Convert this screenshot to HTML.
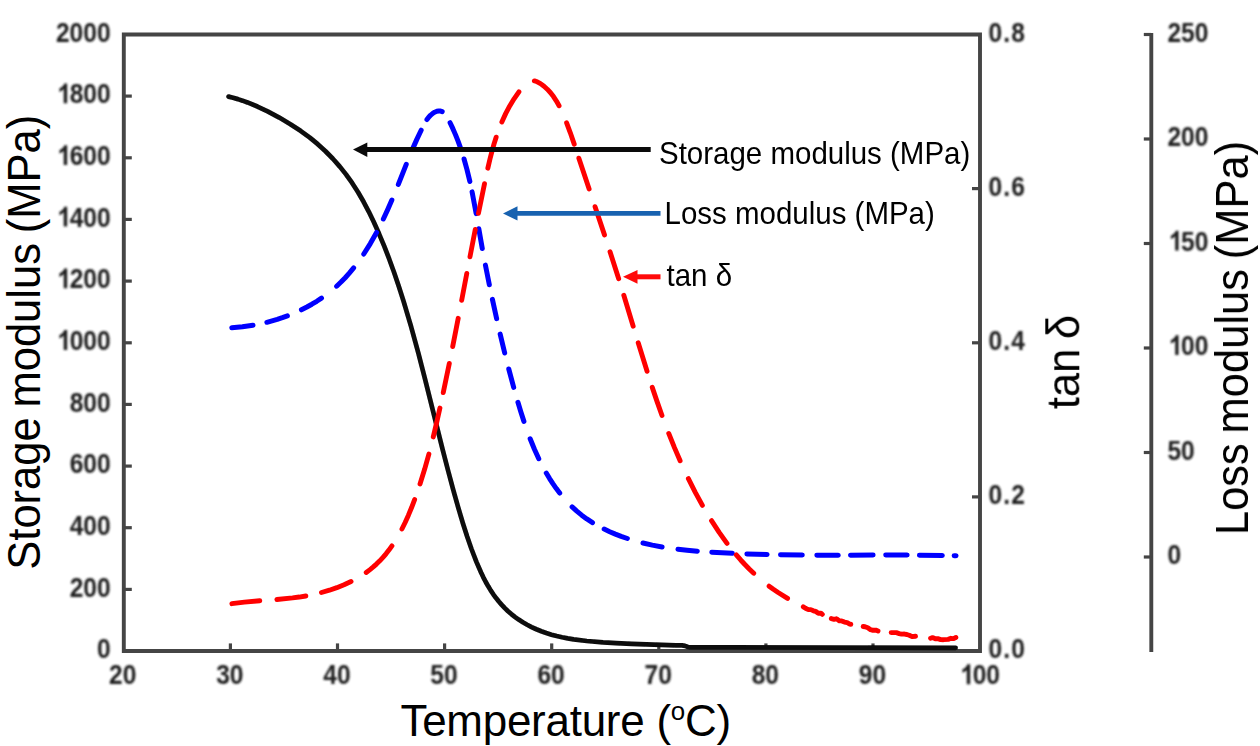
<!DOCTYPE html>
<html><head><meta charset="utf-8"><title>DMA chart</title>
<style>html,body{margin:0;padding:0;background:#fff}svg{display:block}text{font-family:"Liberation Sans",sans-serif;font-kerning:none;font-feature-settings:"kern" 0,"liga" 0}.tk{font-weight:bold;font-size:27.6px;fill:#1e1e1e}.ax{font-size:44px;fill:#000}.lg{font-size:29.5px;fill:#000}</style></head><body>
<svg width="1260" height="746" viewBox="0 0 1260 746">
<rect width="1260" height="746" fill="#fff"/>
<defs><filter id="bl" x="-5%" y="-5%" width="110%" height="110%"><feGaussianBlur stdDeviation="0.95"/></filter><filter id="bl2" x="-5%" y="-5%" width="110%" height="110%"><feGaussianBlur stdDeviation="0.6"/></filter><filter id="bl3" x="-2%" y="-2%" width="104%" height="104%"><feGaussianBlur stdDeviation="0.55"/></filter></defs>
<g stroke="#454545" stroke-width="3.9" fill="none" filter="url(#bl2)">
<path d="M123.8 34.5 H980.0 V651.0 H123.8 Z"/>
<path d="M1151.3 33.0 V652"/>
</g>
<g stroke="#454545" stroke-width="3.2" fill="none" filter="url(#bl2)">
<path d="M123.8 589.4 h8"/>
<path d="M123.8 527.7 h8"/>
<path d="M123.8 466.1 h8"/>
<path d="M123.8 404.4 h8"/>
<path d="M123.8 342.8 h8"/>
<path d="M123.8 281.1 h8"/>
<path d="M123.8 219.4 h8"/>
<path d="M123.8 157.8 h8"/>
<path d="M123.8 96.1 h8"/>
<path d="M230.4 651.0 v-7.6"/>
<path d="M337.5 651.0 v-7.6"/>
<path d="M444.6 651.0 v-7.6"/>
<path d="M551.7 651.0 v-7.6"/>
<path d="M658.8 651.0 v-7.6"/>
<path d="M765.9 651.0 v-7.6"/>
<path d="M873.0 651.0 v-7.6"/>
<path d="M980.0 496.9 h-8"/>
<path d="M980.0 342.8 h-8"/>
<path d="M980.0 188.6 h-8"/>
<path d="M1151.3 557.0 h-7.5"/>
<path d="M1151.3 452.5 h-7.5"/>
<path d="M1151.3 348.0 h-7.5"/>
<path d="M1151.3 243.5 h-7.5"/>
<path d="M1151.3 139.0 h-7.5"/>
<path d="M1151.3 34.5 h-7.5"/>
</g>
<g filter="url(#bl)">
<text class="tk" transform="translate(96.94 658.2) scale(0.890 1)">0</text>
<text class="tk" transform="translate(69.63 596.6) scale(0.890 1)">200</text>
<text class="tk" transform="translate(69.63 534.9) scale(0.890 1)">400</text>
<text class="tk" transform="translate(69.63 473.2) scale(0.890 1)">600</text>
<text class="tk" transform="translate(69.63 411.6) scale(0.890 1)">800</text>
<path d="M806 0L525 0L525 1059Q371 915 162 846L162 1101Q272 1137 401 1237.5Q530 1338 578 1472L806 1472Z" transform="translate(57.47 349.9) scale(0.01199 -0.01348)" fill="#1e1e1e"/>
<text class="tk" transform="translate(69.63 349.9) scale(0.890 1)">000</text>
<path d="M806 0L525 0L525 1059Q371 915 162 846L162 1101Q272 1137 401 1237.5Q530 1338 578 1472L806 1472Z" transform="translate(57.47 288.3) scale(0.01199 -0.01348)" fill="#1e1e1e"/>
<text class="tk" transform="translate(69.63 288.3) scale(0.890 1)">200</text>
<path d="M806 0L525 0L525 1059Q371 915 162 846L162 1101Q272 1137 401 1237.5Q530 1338 578 1472L806 1472Z" transform="translate(57.47 226.6) scale(0.01199 -0.01348)" fill="#1e1e1e"/>
<text class="tk" transform="translate(69.63 226.6) scale(0.890 1)">400</text>
<path d="M806 0L525 0L525 1059Q371 915 162 846L162 1101Q272 1137 401 1237.5Q530 1338 578 1472L806 1472Z" transform="translate(57.47 165.0) scale(0.01199 -0.01348)" fill="#1e1e1e"/>
<text class="tk" transform="translate(69.63 165.0) scale(0.890 1)">600</text>
<path d="M806 0L525 0L525 1059Q371 915 162 846L162 1101Q272 1137 401 1237.5Q530 1338 578 1472L806 1472Z" transform="translate(57.47 103.3) scale(0.01199 -0.01348)" fill="#1e1e1e"/>
<text class="tk" transform="translate(69.63 103.3) scale(0.890 1)">800</text>
<text class="tk" transform="translate(55.97 41.7) scale(0.890 1)">2000</text>
<text class="tk" transform="translate(109.04 684.2) scale(0.890 1)">20</text>
<text class="tk" transform="translate(216.14 684.2) scale(0.890 1)">30</text>
<text class="tk" transform="translate(323.24 684.2) scale(0.890 1)">40</text>
<text class="tk" transform="translate(430.34 684.2) scale(0.890 1)">50</text>
<text class="tk" transform="translate(537.44 684.2) scale(0.890 1)">60</text>
<text class="tk" transform="translate(644.54 684.2) scale(0.890 1)">70</text>
<text class="tk" transform="translate(751.64 684.2) scale(0.890 1)">80</text>
<text class="tk" transform="translate(858.74 684.2) scale(0.890 1)">90</text>
<path d="M806 0L525 0L525 1059Q371 915 162 846L162 1101Q272 1137 401 1237.5Q530 1338 578 1472L806 1472Z" transform="translate(960.51 684.2) scale(0.01199 -0.01348)" fill="#1e1e1e"/>
<text class="tk" transform="translate(972.67 684.2) scale(0.890 1)">00</text>
<text class="tk" transform="translate(988.60 658.2) scale(0.890 1)" letter-spacing="1.24">0.0</text>
<text class="tk" transform="translate(988.60 504.1) scale(0.890 1)" letter-spacing="1.24">0.2</text>
<text class="tk" transform="translate(988.60 349.9) scale(0.890 1)" letter-spacing="1.24">0.4</text>
<text class="tk" transform="translate(988.60 195.8) scale(0.890 1)" letter-spacing="1.24">0.6</text>
<text class="tk" transform="translate(988.60 41.7) scale(0.890 1)" letter-spacing="1.24">0.8</text>
<text class="tk" transform="translate(1167.40 564.0) scale(0.890 1)">0</text>
<text class="tk" transform="translate(1167.40 459.5) scale(0.890 1)">50</text>
<path d="M806 0L525 0L525 1059Q371 915 162 846L162 1101Q272 1137 401 1237.5Q530 1338 578 1472L806 1472Z" transform="translate(1168.90 355.0) scale(0.01199 -0.01348)" fill="#1e1e1e"/>
<text class="tk" transform="translate(1181.06 355.0) scale(0.890 1)">00</text>
<path d="M806 0L525 0L525 1059Q371 915 162 846L162 1101Q272 1137 401 1237.5Q530 1338 578 1472L806 1472Z" transform="translate(1168.90 250.5) scale(0.01199 -0.01348)" fill="#1e1e1e"/>
<text class="tk" transform="translate(1181.06 250.5) scale(0.890 1)">50</text>
<text class="tk" transform="translate(1167.40 146.0) scale(0.890 1)">200</text>
<text class="tk" transform="translate(1167.40 41.5) scale(0.890 1)">250</text>
</g>
<path d="M228.55 96.60 L233.10 97.74 L237.86 99.12 L242.58 100.65 L247.49 102.42 L257.43 106.51 L267.64 111.36 L279.27 117.58 L290.40 124.17 L300.52 130.83 L309.85 137.69 L317.77 144.18 L325.52 151.27 L332.88 158.75 L339.83 166.61 L346.19 174.61 L352.12 182.94 L357.93 192.00 L363.58 201.79 L368.73 211.58 L373.78 222.03 L379.06 233.82 L384.22 246.20 L389.18 258.94 L394.02 272.27 L398.76 286.18 L403.49 300.93 L410.81 325.60 L418.36 353.23 L425.04 379.21 L442.52 449.14 L448.13 470.75 L453.38 490.27 L458.40 508.20 L462.81 523.03 L467.06 536.29 L471.39 548.73 L476.42 561.83 L481.06 572.54 L483.35 577.31 L485.78 581.99 L488.23 586.34 L490.69 590.37 L493.30 594.29 L496.07 598.09 L498.84 601.56 L501.75 604.90 L504.82 608.11 L508.02 611.18 L511.36 614.10 L514.83 616.86 L518.65 619.60 L522.83 622.29 L527.15 624.77 L531.59 627.05 L536.37 629.24 L541.27 631.22 L546.25 633.00 L551.55 634.65 L556.65 636.02 L562.04 637.27 L567.73 638.39 L573.71 639.38 L586.79 641.02 L603.04 642.40 L616.14 643.20 L631.61 643.88 L676.00 645.47 L682.00 645.40 L685.00 645.90 L688.00 647.00 L691.00 647.40 L955.60 647.80" fill="none" stroke="#0a0a0a" stroke-width="4.7" stroke-linecap="round" stroke-linejoin="round" filter="url(#bl3)"/>
<path d="M231.80 327.70 L242.40 326.76 L252.99 325.23 M266.88 322.29 L277.23 319.37 L282.34 317.69 L287.39 315.85 M301.44 309.78 L306.87 307.00 L311.86 304.22 L316.74 301.27 L321.49 298.14 M336.62 286.20 L341.01 282.05 L345.23 277.71 L349.53 272.91 L353.65 267.94 M363.77 254.03 L370.31 243.59 L376.56 232.47 M383.35 219.00 L387.57 209.90 L391.87 200.07 M398.33 184.36 L406.25 164.36 M412.41 149.37 L416.82 139.37 L421.16 130.20 M426.97 119.61 L428.88 117.05 L430.74 115.07 L432.77 113.39 L434.64 112.24 L436.88 111.31 L438.77 110.94 L440.56 111.02 L442.20 111.60 M450.09 122.71 L452.88 128.64 L455.47 134.62 L457.87 140.65 L460.22 147.09 M464.05 159.02 L466.99 169.63 L469.85 181.45 M472.08 191.87 L476.17 213.64 M478.80 228.76 L482.28 248.47 M485.42 265.13 L489.34 284.76 M492.41 299.37 L496.65 318.67 M500.17 334.07 L504.71 352.99 M508.76 369.02 L513.69 387.40 M517.94 402.30 L520.89 412.04 L523.91 421.38 M530.15 438.75 L534.44 449.23 L538.78 458.77 M546.27 473.04 L549.59 478.58 L552.87 483.66 L556.31 488.59 L559.70 493.07 M572.13 506.88 L576.79 511.14 L581.69 515.15 L586.82 518.92 L592.50 522.63 M604.15 529.07 L609.70 531.69 L615.37 534.11 L621.14 536.34 L627.36 538.50 M642.96 542.99 L652.32 545.11 L662.10 546.95 M677.97 549.24 L687.07 550.23 L697.33 551.15 M711.80 552.18 L732.38 553.30 M746.88 553.90 L767.12 554.50 M780.50 554.78 L802.31 555.05 M816.85 555.13 L838.28 555.16 M850.53 555.14 L873.12 555.10 M885.75 555.08 L907.17 555.10 M919.41 555.17 L942.33 555.43 M954.16 555.65 L956.07 555.70" fill="none" stroke="#0404ff" stroke-width="5.0" stroke-linecap="round" stroke-linejoin="round" filter="url(#bl3)"/>
<path d="M231.88 603.68 L244.44 602.13 L259.77 600.78 M276.90 599.47 L292.55 597.93 L299.19 597.05 L305.83 595.98 M321.48 592.52 L329.45 590.20 L336.83 587.65 L344.05 584.75 L351.06 581.47 M366.21 572.42 L370.00 569.60 L373.29 566.92 L376.44 564.11 L379.79 560.83 L382.98 557.40 L386.02 553.82 L388.92 550.11 L391.95 545.89 M401.93 529.03 L405.14 522.52 L408.33 515.43 L411.49 507.77 L414.61 499.57 M420.02 484.01 L424.60 469.30 L428.89 454.06 M433.27 436.92 L436.47 423.43 L439.93 408.04 M443.27 392.61 L449.31 363.52 M452.70 346.58 L458.22 318.29 M461.66 300.35 L466.80 273.40 M469.96 256.85 L475.27 229.44 M478.44 213.38 L484.51 183.67 M487.85 168.15 L489.92 159.27 L491.94 151.37 L494.01 144.00 L496.15 137.16 M501.85 121.92 L505.66 113.61 L509.74 105.91 L514.08 98.79 L518.93 91.84 M534.36 80.91 L535.58 81.20 L537.22 81.80 L540.49 83.59 L544.02 86.23 L547.26 89.19 L550.54 92.77 L553.50 96.61 L556.43 101.07 L559.08 105.75 M566.61 122.80 L570.32 132.79 L574.22 144.13 M578.86 158.18 L589.13 189.00 M595.07 206.69 L604.48 234.87 M610.03 251.73 L618.68 278.74 M623.81 295.30 L633.17 326.20 M638.20 342.80 L647.06 371.32 M652.25 387.34 L657.18 401.90 L661.99 415.47 M668.74 433.42 L674.46 447.64 L680.12 460.83 M688.38 478.63 L695.29 492.31 L702.41 505.38 M711.52 520.69 L719.16 532.37 L727.01 543.31 M736.29 554.92 L740.69 559.97 L744.91 564.53 L749.25 568.97 L753.72 573.27 M769.10 586.17 L773.37 589.28 L778.14 592.53 L787.55 598.39 M803.33 606.85 L805.51 608.22 L807.70 609.32 L808.14 609.49 L810.78 609.62 L813.43 610.78 L815.65 611.37 L818.32 613.20 L821.00 613.25 L822.34 614.32 M831.33 618.59 L834.04 619.28 L836.29 618.78 L836.75 618.83 L839.01 620.70 L839.46 620.86 L841.73 620.89 L844.45 622.05 L847.17 622.56 L849.45 624.07 L850.82 624.20 M863.19 626.50 L865.03 626.76 L867.80 627.76 L870.57 629.72 L872.89 630.28 L875.68 630.10 L878.01 631.07 M891.14 632.61 L896.34 632.64 L899.20 633.56 L901.58 634.08 L904.44 634.04 L906.84 634.47 L909.24 635.22 L912.13 636.66 L915.51 636.25 M930.58 638.24 L932.52 637.64 L933.00 637.65 L935.41 638.76 L937.81 638.63 L940.67 639.58 L943.50 639.68 L948.16 639.35 L950.91 638.32 L953.61 638.61 L955.83 637.47" fill="none" stroke="#ff0404" stroke-width="4.9" stroke-linecap="round" stroke-linejoin="round" filter="url(#bl3)"/>
<path d="M650.7 149.6 H362" stroke="#0a0a0a" stroke-width="5" fill="none"/>
<path d="M353 149.6 L367.3 142.4 L367.3 156.9 Z" fill="#0a0a0a"/>
<path d="M660.5 213.4 H512" stroke="#1862b0" stroke-width="4.6" fill="none"/>
<path d="M503 213.4 L517.5 206.3 L517.5 220.6 Z" fill="#1862b0"/>
<path d="M660.5 276.8 H632" stroke="#ff0a0a" stroke-width="5" fill="none"/>
<path d="M623 276.8 L637.5 270 L637.5 283.8 Z" fill="#ff0a0a"/>
<text class="lg" transform="translate(659.0 163.9) scale(0.948 1)" style="font-size:31.1px">Storage modulus (MPa)</text>
<text class="lg" transform="translate(664.5 224.1) scale(0.948 1)" style="font-size:31.1px">Loss modulus (MPa)</text>
<text class="lg" transform="translate(666.5 286.4) scale(0.948 1)" style="font-size:31.1px">tan δ</text>
<text class="ax" transform="translate(39.6 342.3) rotate(-90) scale(0.957 1)" text-anchor="middle" word-spacing="-2.5" style="font-size:45.5px">Storage modulus (MPa)</text>
<text class="ax" transform="translate(1079.3 362.0) rotate(-90) scale(0.957 1)" text-anchor="middle" word-spacing="-2.5" style="font-size:45.5px">tan δ</text>
<text class="ax" transform="translate(1248.0 338.0) rotate(-90) scale(0.957 1)" text-anchor="middle" word-spacing="-2.5" style="font-size:45.5px">Loss modulus (MPa)</text>
<text class="ax" transform="translate(400.4 736) scale(0.975 1)" letter-spacing="-0.25" style="font-size:45.1px;font-kerning:normal;font-feature-settings:normal">Temperature (<tspan dy="-16.5" style="font-size:26.6px">o</tspan><tspan dy="16.5">C)</tspan></text>
</svg></body></html>
